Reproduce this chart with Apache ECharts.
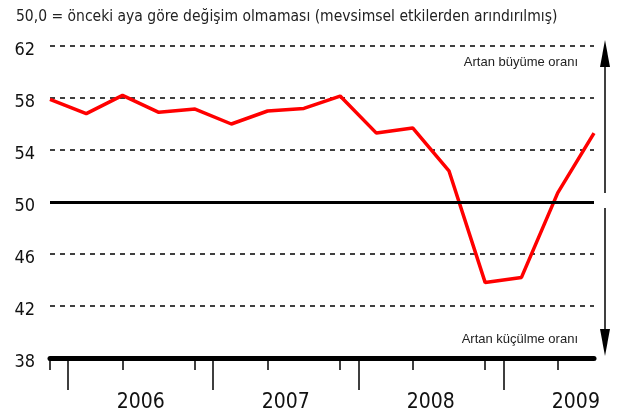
<!DOCTYPE html>
<html>
<head>
<meta charset="utf-8">
<script src="https://cdn.jsdelivr.net/npm/echarts@6/dist/echarts.min.js"></script>
<style>
html, body { margin: 0; padding: 0; background: #fff; }
#main { width: 618px; height: 417px; }
</style>
</head>
<body>
<div id="main"></div>
<script>
// çeyreklik veriler, 2005 4. çeyrek - 2009 3. çeyrek
var quarters = ['2005Q4',
    '2006Q1', '2006Q2', '2006Q3', '2006Q4',
    '2007Q1', '2007Q2', '2007Q3', '2007Q4',
    '2008Q1', '2008Q2', '2008Q3', '2008Q4',
    '2009Q1', '2009Q2', '2009Q3'];
var values = [57.9, 56.8, 58.2, 56.9, 57.15, 56.0, 57.0, 57.2, 58.15, 55.3, 55.7, 52.4, 43.8, 44.2, 50.7, 55.3];
var yearLabels = ['2006', '2007', '2008', '2009'];
var yearLabelPos = [2.5, 6.5, 10.5, 14.5];
var yearTickPos = [0.5, 4.5, 8.5, 12.5];
var narrow = "'DejaVu Sans Condensed', 'Liberation Sans Narrow', 'Liberation Sans', sans-serif";

var chart = echarts.init(document.getElementById('main'));
chart.setOption({
    animation: false,
    title: {
        text: '50,0 = önceki aya göre değişim olmaması (mevsimsel etkilerden arındırılmış)',
        left: 11,
        top: 4,
        textStyle: {
            fontFamily: narrow,
            fontSize: 15.5,
            fontWeight: 'normal',
            color: '#222'
        }
    },
    grid: {
        left: 50,
        right: 24,
        top: 46,
        bottom: 59
    },
    xAxis: [{
        type: 'category',
        position: 'bottom',
        boundaryGap: false,
        data: quarters,
        axisLine: { lineStyle: { color: '#000', width: 5 } },
        axisTick: { length: 12, lineStyle: { color: '#000', width: 1.5 } },
        axisLabel: { show: false },
        splitLine: { show: false }
    }, {
        type: 'value',
        position: 'bottom',
        min: 0,
        max: 15,
        axisLine: { show: false },
        axisTick: {
            customValues: yearTickPos,
            length: 32,
            lineStyle: { color: '#000', width: 1.5 }
        },
        axisLabel: {
            customValues: yearLabelPos,
            margin: 34,
            fontFamily: narrow,
            fontSize: 21,
            color: '#111',
            formatter: function (v) {
                return yearLabels[yearLabelPos.indexOf(v)];
            }
        },
        splitLine: { show: false }
    }],
    yAxis: {
        type: 'value',
        min: 38,
        max: 62,
        interval: 4,
        axisLine: { show: false },
        axisTick: { show: false },
        axisLabel: {
            margin: 15,
            formatter: '{a|{value}}',
            rich: {
                a: {
                    fontFamily: narrow,
                    fontSize: 18,
                    color: '#111',
                    padding: [9, 0, 0, 0]
                }
            }
        },
        splitLine: {
            lineStyle: { color: '#000', type: [5, 5], width: 1.5 }
        }
    },
    series: [{
        type: 'line',
        xAxisIndex: 0,
        data: values,
        symbol: 'none',
        lineStyle: { color: '#ff0000', width: 3.5 },
        markLine: {
            silent: true,
            symbol: 'none',
            label: { show: false },
            lineStyle: { color: '#000', type: 'solid', width: 3 },
            data: [{ yAxis: 50 }]
        },
        z: 3
    }],
    graphic: [
        { type: 'line', shape: { x1: 605, y1: 193, x2: 605, y2: 62 }, style: { stroke: '#000', lineWidth: 1.5 } },
        { type: 'polygon', shape: { points: [[600, 67], [610, 67], [605, 40]] }, style: { fill: '#000' } },
        { type: 'line', shape: { x1: 605, y1: 208, x2: 605, y2: 333 }, style: { stroke: '#000', lineWidth: 1.5 } },
        { type: 'polygon', shape: { points: [[600, 329], [610, 329], [605, 356]] }, style: { fill: '#000' } },
        { type: 'text', right: 40, top: 56, style: { text: 'Artan büyüme oranı', fontSize: 13, fontFamily: "'Liberation Sans', Arial, sans-serif", fill: '#222' } },
        { type: 'text', right: 40, top: 333, style: { text: 'Artan küçülme oranı', fontSize: 13, fontFamily: "'Liberation Sans', Arial, sans-serif", fill: '#222' } }
    ]
});
</script>
</body>
</html>
